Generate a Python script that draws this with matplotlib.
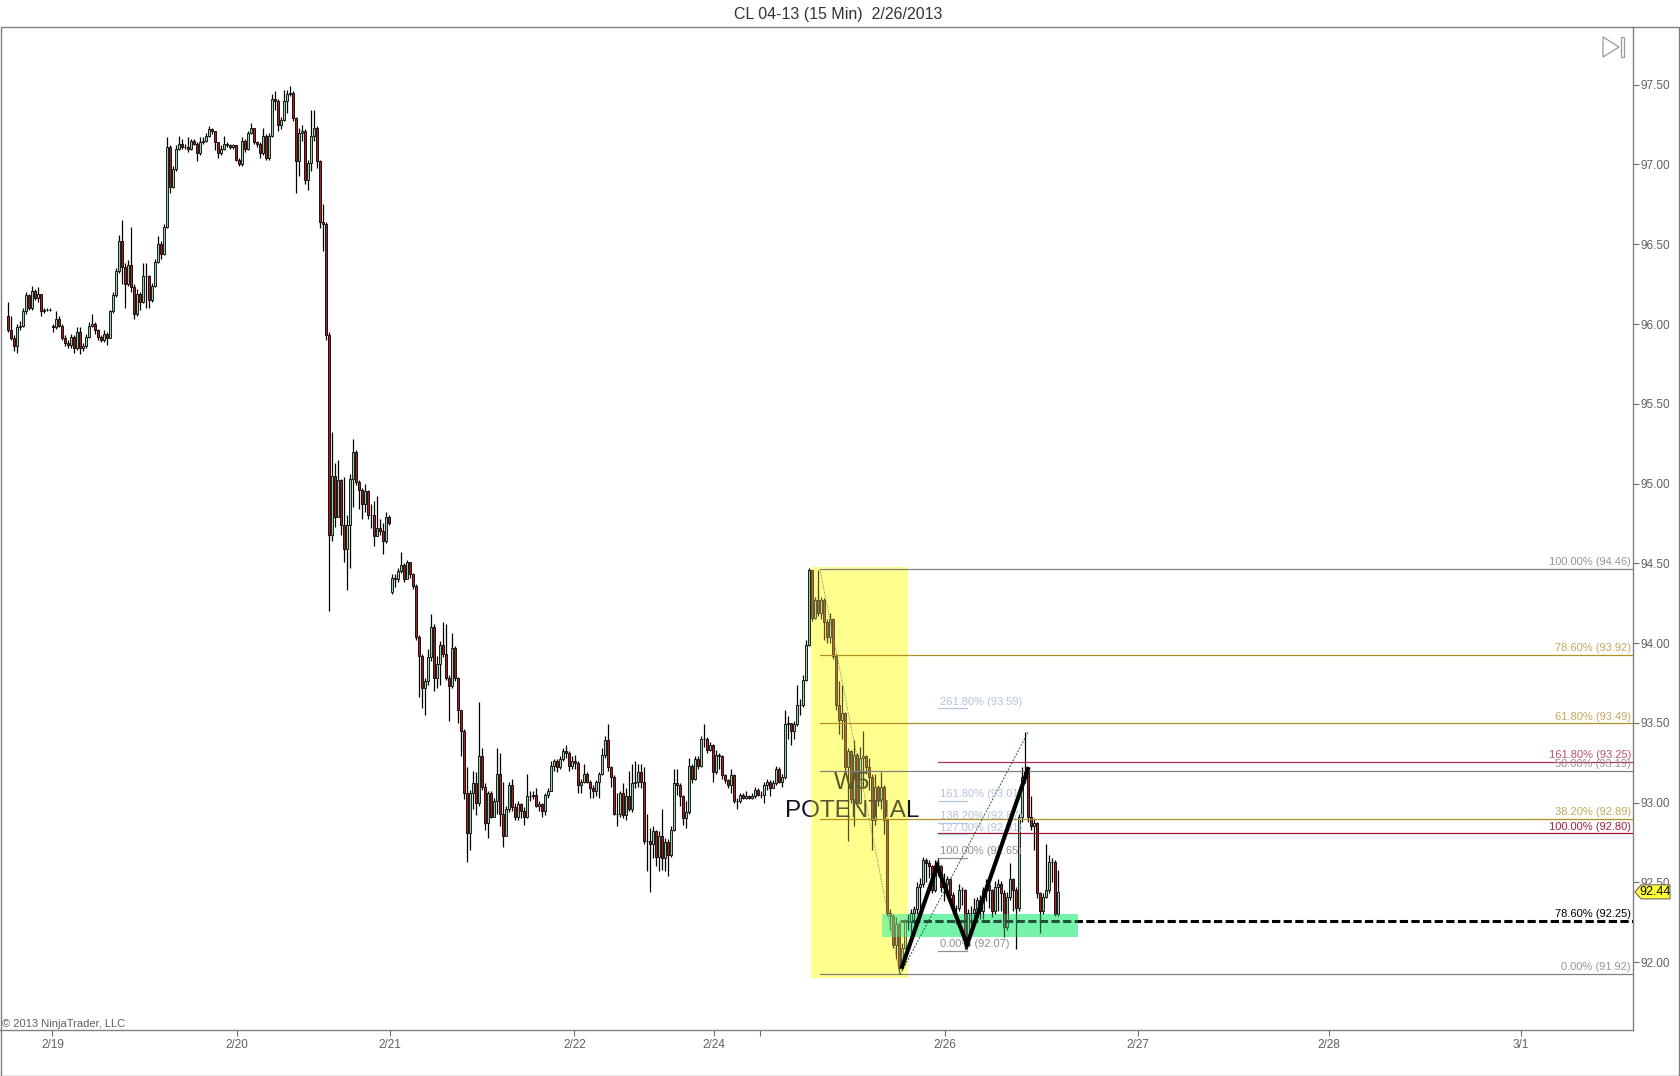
import matplotlib
matplotlib.use('Agg')
import matplotlib.pyplot as plt
from matplotlib.patches import Rectangle, Polygon
from matplotlib.transforms import blended_transform_factory
import numpy as np

plt.rcParams['font.family'] = ['Liberation Sans', 'DejaVu Sans']

# 2/19 to 2/21 morning
closes_a = [95.96, 95.91, 95.86, 95.98, 95.99, 96.08, 96.18, 96.10, 96.21, 96.16,
            96.19, 96.08, 96.09, 96.09, 96.09, 95.98, 96.03, 95.99, 95.91, 95.88,
            95.87, 95.92, 95.85, 95.95, 95.85, 95.86, 95.92, 95.99, 96.00, 95.96,
            95.92, 95.90, 95.94, 95.91, 96.08, 96.18, 96.33, 96.52, 96.36, 96.25,
            96.37, 96.23, 96.06, 96.19, 96.14, 96.30, 96.30, 96.15, 96.24, 96.39,
            96.50, 96.44, 96.61, 97.11, 96.86, 96.97, 97.10, 97.13, 97.11, 97.11,
            97.10, 97.15, 97.13, 97.07, 97.14, 97.15, 97.18, 97.22, 97.21, 97.14,
            97.07, 97.10, 97.13, 97.12, 97.11, 97.12, 97.03, 97.00, 97.15, 97.10,
            97.20, 97.23, 97.14, 97.13, 97.07, 97.18, 97.04, 97.18, 97.41, 97.40,
            97.25, 97.28, 97.40, 97.44, 97.45, 97.29, 97.02, 97.20, 97.21, 96.90,
            97.01, 97.18, 97.23, 97.02, 96.64, 96.63, 95.93]
highs_a = [96.14, 96.05, 95.93, 96.00, 96.02, 96.10, 96.20, 96.19, 96.24, 96.22,
           96.23, 96.19, 96.10, 96.10, 96.10, 96.00, 96.08, 96.05, 96.00, 95.93,
           95.90, 95.94, 95.93, 95.98, 95.98, 95.88, 95.94, 96.01, 96.06, 96.01,
           95.97, 95.93, 95.96, 95.95, 96.09, 96.20, 96.35, 96.56, 96.65, 96.38,
           96.40, 96.61, 96.25, 96.22, 96.20, 96.38, 96.38, 96.31, 96.26, 96.41,
           96.55, 96.52, 96.63, 97.17, 97.12, 96.99, 97.12, 97.18, 97.16, 97.13,
           97.17, 97.16, 97.16, 97.14, 97.17, 97.17, 97.20, 97.24, 97.23, 97.21,
           97.14, 97.12, 97.18, 97.14, 97.13, 97.13, 97.12, 97.04, 97.17, 97.16,
           97.21, 97.26, 97.23, 97.15, 97.14, 97.23, 97.19, 97.20, 97.44, 97.46,
           97.41, 97.30, 97.47, 97.47, 97.49, 97.46, 97.30, 97.23, 97.25, 97.22,
           97.03, 97.34, 97.34, 97.24, 97.03, 96.75, 96.64]
lows_a = [95.95, 95.90, 95.83, 95.82, 95.96, 95.98, 96.06, 96.09, 96.09, 96.15,
          96.14, 96.05, 96.07, 96.08, 96.08, 95.95, 95.97, 95.98, 95.90, 95.86,
          95.85, 95.85, 95.82, 95.84, 95.81, 95.83, 95.85, 95.91, 95.98, 95.94,
          95.90, 95.89, 95.89, 95.87, 95.91, 96.07, 96.17, 96.32, 96.25, 96.10,
          96.24, 96.20, 96.03, 96.05, 96.09, 96.13, 96.10, 96.10, 96.14, 96.23,
          96.38, 96.41, 96.43, 96.60, 96.82, 96.85, 96.96, 97.09, 97.10, 97.10,
          97.08, 97.09, 97.12, 97.02, 97.06, 97.13, 97.14, 97.17, 97.19, 97.09,
          97.04, 97.06, 97.09, 97.11, 97.10, 97.10, 97.02, 96.99, 96.99, 97.08,
          97.09, 97.19, 97.13, 97.11, 97.04, 97.06, 97.03, 97.03, 97.17, 97.34,
          97.21, 97.22, 97.27, 97.32, 97.43, 97.27, 96.82, 96.93, 97.15, 96.88,
          96.84, 96.96, 97.15, 96.98, 96.60, 96.46, 95.90]

# 2/20 close-out into 2/21
closes_b = [94.68, 95.05, 94.79, 95.02, 94.74, 94.59, 94.74, 95.03, 95.20, 95.01,
            94.96, 94.87, 94.95, 94.80, 94.80, 94.67, 94.72, 94.70, 94.64, 94.79,
            94.75, 94.41, 94.40, 94.45, 94.49, 94.40, 94.51, 94.43, 94.36, 94.04,
            93.92, 93.72, 93.76, 93.91, 94.10, 93.78, 93.87, 93.99, 93.93, 93.78,
            93.73, 93.97, 93.78, 93.58]
highs_b = [95.95, 95.32, 95.13, 95.15, 95.03, 95.04, 94.80, 95.06, 95.28, 95.21,
           95.02, 94.97, 95.00, 94.96, 94.87, 94.89, 94.92, 94.78, 94.75, 94.82,
           94.80, 94.43, 94.43, 94.47, 94.57, 94.50, 94.52, 94.51, 94.44, 94.37,
           94.05, 93.93, 93.78, 93.96, 94.18, 94.12, 93.92, 94.01, 94.13, 94.12,
           93.80, 94.06, 93.98, 93.79]
lows_b = [94.20, 94.64, 94.73, 94.79, 94.68, 94.51, 94.33, 94.47, 94.85, 94.99,
          94.84, 94.78, 94.82, 94.78, 94.72, 94.61, 94.70, 94.68, 94.56, 94.63,
          94.74, 94.31, 94.35, 94.38, 94.44, 94.38, 94.41, 94.41, 94.34, 94.02,
          93.66, 93.59, 93.55, 93.74, 93.89, 93.70, 93.72, 93.74, 93.91, 93.77,
          93.51, 93.72, 93.76, 93.50]

# 2/21 to 2/25
closes_c = [93.45, 93.06, 92.81, 93.06, 93.12, 93.00, 93.29, 93.10, 92.87, 93.06,
            92.91, 93.01, 93.18, 92.93, 92.79, 92.96, 93.11, 92.97, 92.91, 92.99,
            92.95, 92.91, 93.04, 93.04, 93.05, 92.98, 92.99, 92.95, 93.05, 93.07,
            93.23, 93.26, 93.22, 93.27, 93.32, 93.31, 93.23, 93.26, 93.25, 93.11,
            93.13, 93.18, 93.13, 93.09, 93.07, 93.13, 93.18, 93.30, 93.39, 93.22,
            93.16, 92.93, 92.93, 93.06, 92.92, 93.04, 92.96, 93.12, 93.13, 93.19,
            93.13, 92.76, 92.76, 92.74, 92.82, 92.66, 92.79, 92.65, 92.75, 92.67,
            92.83, 93.12, 93.11, 93.04, 92.90, 92.94, 93.23, 93.15, 93.27, 93.23,
            93.40, 93.40, 93.33, 93.36, 93.19, 93.30, 93.29, 93.17, 93.14, 93.11,
            93.17, 93.01, 93.01, 93.05, 93.03, 93.04, 93.03, 93.04, 93.08, 93.05,
            93.05, 93.11, 93.13, 93.09, 93.12, 93.21, 93.13, 93.16, 93.49, 93.50,
            93.45, 93.49, 93.61, 93.61, 93.77]
highs_c = [93.58, 93.46, 93.22, 93.08, 93.20, 93.19, 93.63, 93.34, 93.12, 93.07,
           93.07, 93.03, 93.34, 93.31, 93.13, 92.98, 93.13, 93.15, 93.00, 93.01,
           93.00, 92.97, 93.18, 93.07, 93.07, 93.09, 93.01, 93.00, 93.06, 93.09,
           93.26, 93.27, 93.27, 93.29, 93.34, 93.36, 93.32, 93.29, 93.30, 93.26,
           93.15, 93.24, 93.19, 93.14, 93.11, 93.14, 93.19, 93.34, 93.42, 93.49,
           93.23, 93.17, 93.06, 93.07, 93.12, 93.09, 93.20, 93.24, 93.26, 93.24,
           93.24, 93.22, 92.93, 92.84, 92.85, 92.83, 92.82, 92.96, 92.78, 92.77,
           92.85, 93.21, 93.21, 93.12, 93.05, 93.01, 93.28, 93.24, 93.29, 93.29,
           93.42, 93.49, 93.41, 93.38, 93.37, 93.33, 93.31, 93.30, 93.18, 93.15,
           93.21, 93.18, 93.03, 93.06, 93.06, 93.07, 93.05, 93.06, 93.10, 93.09,
           93.07, 93.13, 93.15, 93.14, 93.14, 93.23, 93.22, 93.18, 93.58, 93.54,
           93.50, 93.51, 93.74, 93.65, 93.80]
lows_c = [93.29, 93.02, 92.63, 92.70, 92.96, 92.92, 92.98, 93.08, 92.83, 92.78,
          92.90, 92.92, 92.93, 92.85, 92.72, 92.80, 92.94, 92.95, 92.89, 92.89,
          92.90, 92.86, 92.90, 93.01, 93.02, 92.97, 92.95, 92.91, 92.92, 93.03,
          93.07, 93.20, 93.19, 93.21, 93.26, 93.28, 93.20, 93.21, 93.21, 93.06,
          93.06, 93.12, 93.12, 93.03, 93.03, 93.04, 93.03, 93.17, 93.28, 93.20,
          93.10, 92.92, 92.85, 92.91, 92.90, 92.89, 92.95, 92.94, 93.09, 93.10,
          93.09, 92.74, 92.57, 92.44, 92.65, 92.60, 92.57, 92.58, 92.57, 92.54,
          92.66, 92.82, 93.05, 92.98, 92.86, 92.84, 92.93, 93.12, 93.14, 93.21,
          93.22, 93.35, 93.31, 93.32, 93.13, 93.18, 93.21, 93.15, 93.12, 93.09,
          93.06, 93.00, 92.96, 93.00, 93.02, 93.02, 93.02, 93.02, 93.03, 93.04,
          93.03, 93.00, 93.08, 93.04, 93.09, 93.11, 93.12, 93.10, 93.15, 93.40,
          93.36, 93.40, 93.48, 93.55, 93.60]

# 2/25 to the last bar
closes_d = [93.99, 94.46, 94.16, 94.27, 94.19, 94.27, 94.13, 94.04, 94.15, 93.92,
            93.61, 93.52, 93.56, 93.22, 93.32, 93.02, 93.30, 93.00, 93.28, 93.29,
            93.22, 93.16, 92.89, 93.10, 93.02, 93.10, 92.89, 92.31, 92.29, 92.11,
            92.24, 91.96, 92.09, 92.25, 92.26, 92.31, 92.33, 92.47, 92.49, 92.64,
            92.62, 92.60, 92.45, 92.61, 92.60, 92.47, 92.49, 92.52, 92.42, 92.34,
            92.34, 92.45, 92.45, 92.11, 92.31, 92.31, 92.33, 92.39, 92.32, 92.45,
            92.48, 92.45, 92.32, 92.47, 92.49, 92.43, 92.22, 92.41, 92.52, 92.45,
            92.34, 92.91, 93.16, 93.20, 92.91, 92.85, 92.87, 92.43, 92.32, 92.41,
            92.45, 92.63, 92.63, 92.30, 92.44]
highs_d = [94.02, 94.47, 94.46, 94.29, 94.46, 94.29, 94.28, 94.15, 94.19, 94.16,
           93.93, 93.76, 93.74, 93.57, 93.34, 93.33, 93.39, 93.31, 93.35, 93.45,
           93.30, 93.28, 93.18, 93.18, 93.11, 93.19, 93.11, 92.90, 92.33, 92.30,
           92.28, 92.25, 92.12, 92.27, 92.30, 92.33, 92.35, 92.50, 92.53, 92.66,
           92.65, 92.64, 92.61, 92.64, 92.65, 92.61, 92.56, 92.54, 92.53, 92.44,
           92.36, 92.49, 92.47, 92.46, 92.33, 92.35, 92.40, 92.41, 92.42, 92.47,
           92.52, 92.50, 92.46, 92.51, 92.52, 92.51, 92.45, 92.44, 92.62, 92.53,
           92.47, 92.93, 93.22, 93.44, 93.22, 93.04, 92.90, 92.88, 92.44, 92.43,
           92.74, 92.67, 92.65, 92.64, 92.58]
lows_d = [93.76, 93.98, 94.14, 94.15, 94.17, 94.15, 94.02, 94.00, 94.00, 93.90,
          93.58, 93.43, 93.40, 93.20, 92.76, 93.00, 92.85, 92.97, 92.99, 93.10,
          93.18, 93.08, 92.70, 92.86, 92.98, 92.96, 92.80, 92.29, 92.20, 92.09,
          92.02, 91.93, 91.95, 92.08, 92.20, 92.18, 92.24, 92.30, 92.33, 92.47,
          92.50, 92.53, 92.43, 92.44, 92.54, 92.44, 92.38, 92.44, 92.40, 92.30,
          92.24, 92.32, 92.36, 92.08, 92.11, 92.21, 92.24, 92.30, 92.27, 92.27,
          92.38, 92.34, 92.28, 92.30, 92.32, 92.32, 92.16, 92.20, 92.39, 92.32,
          92.08, 92.32, 92.88, 93.12, 92.88, 92.83, 92.70, 92.40, 92.18, 92.30,
          92.40, 92.43, 92.50, 92.29, 92.29]

first_open = 96.05
gap_opens = {15: 95.99, 128: 94.32}

tick_bars = [14.8, 76.2, 127.3, 188.8, 235.3, 250.7, 312.3, 376.7, 440.3, 504.3]
tick_labels = ['2/19', '2/20', '2/21', '2/22', '2/24', '', '2/26', '2/27', '2/28', '3/1']
price_ticks = [92.0, 92.5, 93.0, 93.5, 94.0, 94.5, 95.0, 95.5, 96.0, 96.5, 97.0, 97.5]

# retracement levels drawn to the right edge: pct label, price, colour
fib_names = ['100.00%', '78.60%', '61.80%', '50.00%', '38.20%', '0.00%']
fib_prices = [94.46, 93.92, 93.49, 93.19, 92.89, 91.92]
fib_line_cols = ['#808080', '#b09020', '#b09020', '#808080', '#b09020', '#808080']
fib_text_cols = ['#959595', '#c4a860', '#c4a860', '#959595', '#c4a860', '#959595']

ext_names = ['161.80%', '100.00%']
ext_prices = [93.25, 92.80]
ext_line_cols = ['#b03050', '#a01030']
ext_text_cols = ['#c05070', '#a02040']

# projection levels with only a short stub
stub_names = ['261.80%', '161.80%', '138.20%', '127.00%', '100.00%', '0.00%']
stub_prices = [93.59, 93.01, 92.87, 92.80, 92.65, 92.07]
stub_label_prices = ['93.59', '93.01', '92.87', '92.81', '92.65', '92.07']
stub_cols = ['#b4c4da', '#b4c4da', '#b4c4da', '#b4c4da', '#909090', '#909090']

wave_bars = [298, 309.7, 319.7, 340]
wave_prices = [91.97, 92.60, 92.11, 93.21]

closes = np.array(closes_a + closes_b + closes_c + closes_d)
highs = np.array(highs_a + highs_b + highs_c + highs_d)
lows = np.array(lows_a + lows_b + lows_c + lows_d)
opens = np.r_[first_open, closes[:-1]]
for k, v in gap_opens.items():
    opens[k] = v
bars = np.arange(len(closes))

W, H = 1680, 1076
px_to_bar = lambda px: (px - 8) / 3.0
line_nudge = 0.006

fig = plt.figure(figsize=(W / 100, H / 100), dpi=100)
ax = fig.add_axes([0, (H - 1030) / H, 1633 / W, 1003 / H])
ax.set_xlim(px_to_bar(0), px_to_bar(1633))
ax.set_ylim(91.574, 97.862)

# zones: solid under the candles, a light wash over them
yellow_box = ((px_to_bar(811), 91.90), (908 - 811) / 3.0, 94.476 - 91.90)
green_box = ((px_to_bar(882), 92.16), (1078 - 882) / 3.0, 92.30 - 92.16)
ax.add_patch(Rectangle(*yellow_box, fc='#ffffa0', ec='none', zorder=1))
ax.add_patch(Rectangle(*green_box, fc='#7ff5b0', ec='none', zorder=1.1))
ax.add_patch(Rectangle(*yellow_box, fc='#ffff66', ec='none', alpha=0.3, zorder=3.1))
ax.add_patch(Rectangle(*green_box, fc='#66f0a0', ec='none', alpha=0.35, zorder=3.2))

# candles
up = closes >= opens
ax.vlines(bars, lows, highs, color='black', lw=0.9, zorder=2)
ax.bar(bars, np.abs(closes - opens), bottom=np.minimum(opens, closes), width=0.8,
       color=np.where(up, '#9ad0a6', '#ab1c1e'), edgecolor='black', linewidth=0.6, zorder=2.1)

ax.text(px_to_bar(852), 93.12, 'W5', fontsize=17.5, ha='center', va='center', color='#111111', zorder=3)
ax.text(px_to_bar(852), 92.95, 'POTENTIAL', fontsize=17.5, ha='center', va='center', color='#111122', zorder=3)

# fib lines
x_fib = px_to_bar(820)
x_ext = px_to_bar(938)
x_right = px_to_bar(1631)
for name, price, lc, tc in zip(fib_names, fib_prices, fib_line_cols, fib_text_cols):
    ax.plot([x_fib, px_to_bar(1633)], [price + line_nudge] * 2, color=lc, lw=0.9, zorder=3.3)
    ax.text(x_right, price + 0.018, '%s (%.2f)' % (name, price), color=tc, fontsize=8,
            ha='right', va='bottom', zorder=4)
for name, price, lc, tc in zip(ext_names, ext_prices, ext_line_cols, ext_text_cols):
    ax.plot([x_ext, px_to_bar(1633)], [price + line_nudge] * 2, color=lc, lw=0.9, zorder=3.3)
    ax.text(x_right, price + 0.018, '%s (%.2f)' % (name, price), color=tc, fontsize=8,
            ha='right', va='bottom', zorder=4)

# 78.6% dashed level
ax.plot([px_to_bar(900), px_to_bar(1633)], [92.25 + line_nudge] * 2, color='black', lw=2.2,
        dashes=(2.7, 1.1), zorder=3)
ax.text(x_right, 92.25 + 0.018, '78.60% (92.25)', color='black', fontsize=8, ha='right', va='bottom', zorder=4)

# short projection stubs
for name, price, lab, c in zip(stub_names, stub_prices, stub_label_prices, stub_cols):
    ax.plot([x_ext, px_to_bar(967)], [price, price], color=c, lw=0.9, zorder=3.3)
    ax.text(px_to_bar(940), price + 0.012, '%s (%s)' % (name, lab), color=c, fontsize=8,
            ha='left', va='bottom', zorder=4)

# thin connectors between swing points
ax.plot([x_fib, px_to_bar(900)], [94.46, 91.92], color='#7a7a50', lw=0.6, ls=(0, (1.5, 1.5)), zorder=3.4)
ax.plot([px_to_bar(900), px_to_bar(1028)], [91.92, 93.44], color='#1d5c2c', lw=0.7, ls=(0, (2, 1.5)), zorder=3.4)
ax.plot([x_ext, px_to_bar(967)], [92.65, 92.07], color='#555555', lw=0.6, ls=(0, (1.5, 1.5)), zorder=3.4)

# hand-drawn swing line
ax.plot(wave_bars, wave_prices, color='black', lw=3.0, solid_joinstyle='miter', zorder=5)

# axes styling
ax.yaxis.tick_right()
ax.set_yticks(price_ticks)
ax.set_yticklabels(['%.2f' % p for p in price_ticks])
ax.set_xticks(tick_bars)
ax.set_xticklabels(tick_labels)
ax.tick_params(axis='both', length=4.3, width=0.8, color='#707070', labelcolor='#606060', labelsize=8.5)
ax.tick_params(axis='x', pad=2)
ax.tick_params(axis='y', pad=1)
for s in ax.spines.values():
    s.set_color('#808080')
    s.set_linewidth(1.0)
ax.spines['top'].set_visible(False)
ax.spines['left'].set_visible(False)

# last-price tag on the price axis
last = closes[-1]
trans = blended_transform_factory(ax.transAxes, ax.transData)
tag_x0 = 1 + 2 / 1633
tag_x1 = 1 + 8 / 1633
tag_x2 = 1 + 37 / 1633
tag_h = 0.044
ax.add_patch(Polygon([(tag_x0, last), (tag_x1, last + tag_h), (tag_x2, last + tag_h),
                      (tag_x2, last - tag_h), (tag_x1, last - tag_h)], closed=True,
                     fc='#ffff33', ec='#555555', lw=0.7, transform=trans, clip_on=False, zorder=6))
ax.text(1 + 22 / 1633, last, '%.2f' % last, transform=trans, fontsize=9, ha='center', va='center',
        color='black', zorder=7, clip_on=False)

# outer frame, title, credit
fig.add_artist(Rectangle((0.5 / W, 0.5 / H), (W - 1.5) / W, (H - 27.5) / H, fill=False, ec='#808080',
                         lw=1.0, transform=fig.transFigure))
fig.text(838 / W, 1 - 14 / H, 'CL 04-13 (15 Min)  2/26/2013', fontsize=11.5, ha='center', va='center', color='#333333')
fig.text(2 / W, 1 - 1024 / H, '\u00a9 2013 NinjaTrader, LLC', fontsize=8, ha='left', va='center', color='#606060')

# collapse-panel icon
ax.add_patch(Polygon([(1603 / 1633, 1 - 10 / 1003), (1603 / 1633, 1 - 30 / 1003), (1619 / 1633, 1 - 20 / 1003)],
                     closed=True, fc='white', ec='#999999', lw=0.9, transform=ax.transAxes, zorder=6))
ax.add_patch(Rectangle((1621 / 1633, 1 - 30 / 1003), 3 / 1633, 20 / 1003, fc='white', ec='#999999', lw=0.9,
                       transform=ax.transAxes, zorder=6))

fig.savefig('out.png', dpi=100)
